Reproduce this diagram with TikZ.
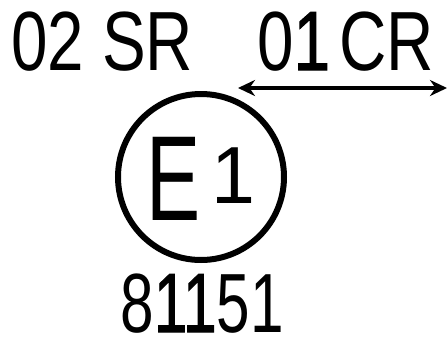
\documentclass[tikz,border=0pt]{standalone}
\usepackage{fontspec}
\usetikzlibrary{arrows.meta}
\newfontfamily\din[FakeStretch=0.78]{Liberation Sans}
\newfontfamily\dinheavy[FakeStretch=0.78,FakeBold=1.2]{Liberation Sans}

\begin{document}
\begin{tikzpicture}[
x=1pt, y=-1pt,
letters/.style = {inner sep=0pt, anchor=base west},
ringbox/.style = {circle, draw, line width=6pt, minimum size=166pt, inner sep=0pt}
]
\useasboundingbox (0,0) rectangle (448,338);
  \node[letters] (sr) at (11,70) {\din\fontsize{84}{84}\selectfont 02 SR};
  \node[letters] (cr) at (257,70) {\din\fontsize{84}{84}\selectfont 0{\dinheavy 1}\kern9pt CR};
  \node[ringbox] (ring) at (201,177) {};
  \node[letters] (e) at (146,220) {\din\fontsize{121}{121}\selectfont\scalebox{0.86}[1]{E}};
  \node[letters] (one) at (211,203) {\din\fontsize{81}{81}\selectfont\scalebox{1.25}[1]{1}};
  \node[letters, anchor=base] (num) at (202,332) {\din\fontsize{84}{84}\selectfont\scalebox{0.92}[1]{8{\dinheavy 11}51}};
\coordinate (al) at (238,88);
\coordinate (ar) at (447,88);
\draw[line width=4.5pt, {Stealth[length=17pt,width=16pt]}-{Stealth[length=17pt,width=16pt]}] (al) -- (ar);
\end{tikzpicture}
\end{document}
